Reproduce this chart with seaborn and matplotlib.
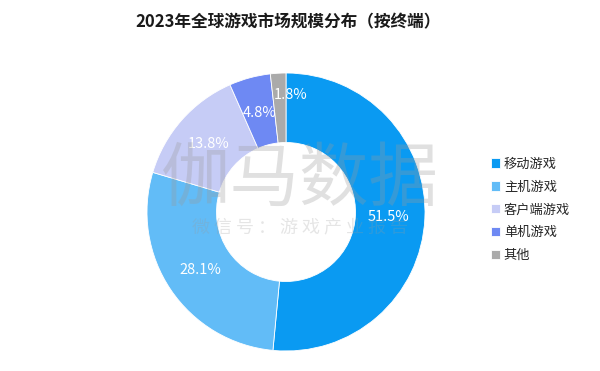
import matplotlib
matplotlib.use('Agg')
import matplotlib.pyplot as plt
import seaborn as sns

# 2023 global game market share by platform
categories = ['移动游戏', '主机游戏', '客户端游戏', '单机游戏', '其他']
shares = [51.5, 28.1, 13.8, 4.8, 1.8]
colors = ['#0a9af2', '#62bcf7', '#c6ccf6', '#6e89f3', '#aaaaaa']

sns.set_theme(style='white')
plt.rcParams['font.family'] = ['Noto Sans CJK SC', 'DejaVu Sans']

fig = plt.figure(figsize=(6, 3.71), dpi=100)
W, H = 600, 371
# donut centre ~ (286, 212) px, radius ~139 px
r = 139
ax = fig.add_axes([(286 - r) / W, (H - 212 - r) / H, 2 * r / W, 2 * r / H])

wedges, texts, autotexts = ax.pie(
    shares, colors=colors, startangle=90, counterclock=False,
    autopct='%.1f%%', pctdistance=0.74,
    wedgeprops=dict(width=0.5, edgecolor='white', linewidth=0.6),
    textprops=dict(color='white', fontsize=10.5))
ax.set_xlim(-1, 1)
ax.set_ylim(-1, 1)
ax.set_aspect('auto')
autotexts[4].set_position((0.03, 0.84))

# watermark
fig.text(300 / W, 1 - 180 / H, '伽马数据', fontsize=50, color='#9a9a9a',
         alpha=0.3, ha='center', va='center', fontweight='light')
fig.text(300 / W, 1 - 228 / H, '微 信 号 ： 游 戏 产 业 报 告', fontsize=13,
         color='#9a9a9a', alpha=0.25, ha='center', va='center', fontweight='light')

fig.text(288 / W, 1 - 22 / H, '2023年全球游戏市场规模分布（按终端）',
         fontsize=12, fontweight='bold', color='#1a1a1a', ha='center', va='center')

fig.legend(wedges, categories, loc='center left',
           bbox_to_anchor=(484 / W, 1 - 210 / H), frameon=False,
           fontsize=9.5, handlelength=0.7, handleheight=0.7,
           handletextpad=0.3, labelspacing=0.75, borderpad=0)

fig.savefig('out.png', dpi=100)
